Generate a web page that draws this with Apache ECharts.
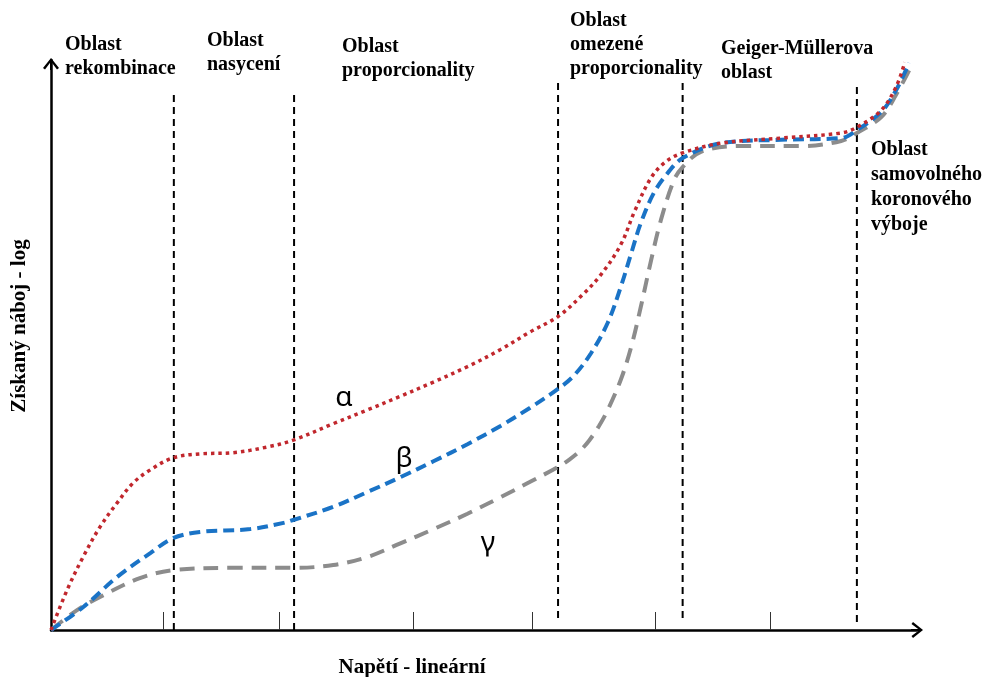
<!DOCTYPE html>
<html lang="cs">
<head>
    <meta charset="UTF-8">
    <title>Oblasti plynového detektoru</title>
    <script src="https://cdn.jsdelivr.net/npm/echarts@6/dist/echarts.min.js"></script>
    <style>
        body{
            margin: 0;
            background: #fff;
        }
        #container{
            width: 987px;
            height: 677px;
        }
    </style>
</head>
<body>
<div id="container"></div>
<script type="text/javascript">
    // krivky (x = napeti, y = log naboje)
    let alphaData = [[0,0],[1.84,7.0],[3.68,12.8],[5.63,18.1],[7.59,22.3],[9.43,25.8],[11.4,28.1],[14.0,30.2],
        [17.1,30.9],[20.9,31.1],[24.8,32.1],[27.8,33.3],[32.4,36.2],[36.3,38.6],[40.1,41.0],[43.9,43.5],[47.8,46.2],
        [51.6,49.2],[55.0,52.3],[58.2,55.0],[61.0,58.8],[63.1,62.3],[65.4,67.6],[67.0,73.5],[68.9,79.4],[70.6,82.2],
        [72.5,83.7],[76.9,85.4],[83.8,86.3],[90.7,87.2],[92.5,88.2],[95.3,91.2],[97.0,95.3],[98.0,99.6]];
    let betaData = [[0,0],[3.68,4.0],[7.59,9.3],[11.4,13.5],[14.0,16.1],[17.1,17.2],[22.9,17.7],[26.7,18.8],[27.8,19.3],
        [32.4,21.6],[36.3,24.2],[40.1,26.8],[43.9,29.6],[47.8,32.6],[51.6,35.8],[55.0,39.0],[58.2,42.3],
        [60.0,44.6],[62.0,48.6],[63.9,53.9],[65.4,60.2],[66.6,66.1],[67.7,71.4],[69.2,76.7],[70.8,80.2],[72.5,82.8],
        [76.9,85.4],[83.8,86.0],[90.7,86.3],[92.5,87.7],[95.3,90.9],[97.0,94.7],[98.5,99.5]];
    let gammaData = [[0,0],[2.99,3.5],[5.63,5.8],[10.2,9.1],[14.0,10.5],[20.9,10.9],[27.8,10.9],[32.4,11.4],[36.3,12.8],
        [40.1,15.2],[43.9,17.7],[47.8,20.4],[51.6,23.3],[55.0,26.0],[58.2,28.6],[59.5,29.9],[60.7,31.4],[61.8,33.3],
        [62.9,35.8],[63.9,38.6],[65.4,43.9],[66.6,49.7],[67.7,56.7],[68.9,65.0],[70.0,71.9],[71.5,78.9],[72.5,81.2],[74.6,83.9],
        [79.2,84.9],[86.1,84.9],[90.7,85.8],[92.5,87.2],[95.3,90.0],[97.0,93.9],[98.5,98.2]];

    // hranice oblasti
    let dividerX = [14.1, 27.9, 58.2, 72.5, 92.5];
    let dividerBottom = [0, 0, 2.1, 2.1, 1.4];
    let dividerTop = [94.7, 94.7, 96.1, 96.1, 95.6];

    // znacky na ose x
    let tickValues = [12.9, 26.2, 41.6, 55.2, 69.4, 82.6];

    let regionNames = ['Oblast\nrekombinace', 'Oblast\nnasycení', 'Oblast\nproporcionality',
        'Oblast\nomezené\nproporcionality', 'Geiger-Müllerova\noblast', 'Oblast\nsamovolného\nkoronového\nvýboje'];
    let curveNames = ['α', 'β', 'γ'];

    let arrow = 'path://M8,0 L16,10 L14,11.5 L8,3.5 L2,11.5 L0,10 Z M7,1 L9,1 L9,12 L7,12 Z';
    let serif = '"Liberation Serif", "Times New Roman", serif';

    let dom = document.getElementById("container");
    let myChart = echarts.init(dom);

    let dividerSeries = dividerX.map(function(x, i){
        return {
            type: 'line',
            data: [[x, dividerBottom[i]], [x, dividerTop[i]]],
            showSymbol: false,
            silent: true,
            z: 1,
            lineStyle: {color: '#000', width: 2, type: [7, 5]}
        };
    });

    let regionPos = [[65,33],[207,29],[342,35],[570,9],[721,37],[871,137]];
    let greekPos = [[344,398],[404,459],[488,543]];

    let graphics = [];
    regionNames.forEach(function(t, i){
        graphics.push({
            type: 'text',
            x: regionPos[i][0],
            y: regionPos[i][1],
            style: {
                text: t,
                font: 'bold 20px ' + serif,
                lineHeight: i === 5 ? 25 : 24,
                fill: '#000',
                verticalAlign: 'top'
            }
        });
    });
    curveNames.forEach(function(t, i){
        graphics.push({
            type: 'text',
            x: greekPos[i][0],
            y: greekPos[i][1],
            style: {
                text: t,
                font: '28px "Noto Sans"',
                fill: '#000',
                align: 'center',
                verticalAlign: 'middle'
            }
        });
    });
    graphics.push({
        type: 'text',
        x: 20,
        y: 326,
        rotation: Math.PI / 2,
        style: {
            text: 'Získaný náboj - log',
            font: 'bold 21px ' + serif,
            fill: '#000',
            align: 'center',
            verticalAlign: 'middle'
        }
    });

    let option = {
        animation: false,
        grid: {left: 51, right: 70, top: 60, bottom: 47, outerBoundsMode: 'none'},
        xAxis: {
            type: 'value',
            min: 0,
            max: 99.4,
            splitLine: {show: false},
            axisLabel: {show: false},
            axisLine: {
                onZero: false,
                symbol: ['none', arrow],
                symbolSize: [16, 12],
                lineStyle: {color: '#000', width: 2.5}
            },
            axisTick: {
                show: true,
                inside: true,
                length: 18,
                customValues: tickValues,
                lineStyle: {color: '#333', width: 1}
            },
            name: 'Napětí - lineární',
            nameLocation: 'middle',
            nameGap: 27,
            nameTextStyle: {color: '#000', fontFamily: serif, fontWeight: 'bold', fontSize: 21, padding: [0, 144, 0, 0]}
        },
        yAxis: {
            type: 'value',
            min: 0,
            max: 100,
            splitLine: {show: false},
            axisLabel: {show: false},
            axisTick: {show: false},
            axisLine: {
                onZero: false,
                symbol: ['none', arrow],
                symbolSize: [16, 12],
                symbolOffset: [0, -4],
                lineStyle: {color: '#000', width: 2.5}
            }
        },
        graphic: graphics,
        series: dividerSeries.concat([
            {
                name: 'γ',
                type: 'line',
                data: gammaData,
                smooth: 0.35,
                showSymbol: false,
                z: 2,
                lineStyle: {color: '#8c8c8c', width: 4, type: [15, 9]}
            },
            {
                name: 'β',
                type: 'line',
                data: betaData,
                smooth: 0.35,
                showSymbol: false,
                z: 3,
                lineStyle: {color: '#1a73c6', width: 4, type: [11, 6]}
            },
            {
                name: 'α',
                type: 'line',
                data: alphaData,
                smooth: 0.35,
                showSymbol: false,
                z: 4,
                lineStyle: {color: '#c1272d', width: 3.5, type: [3.5, 4]}
            }
        ])
    };
    myChart.setOption(option);
</script>
</body>
</html>
